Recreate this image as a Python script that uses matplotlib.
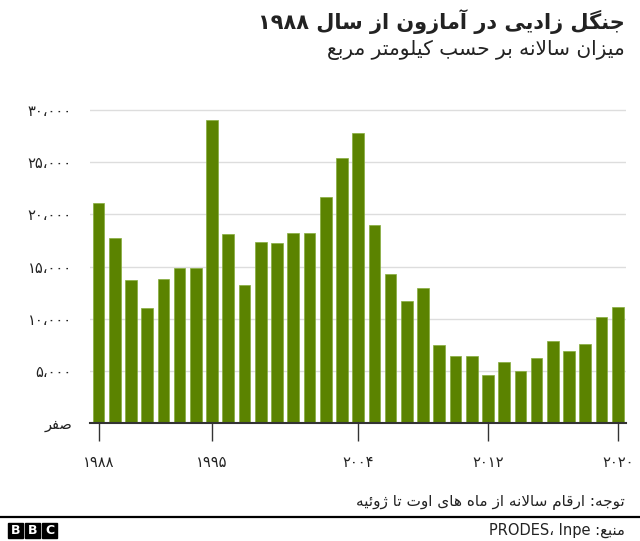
#!/usr/bin/env python3
# -*- coding: utf-8 -*-

import numpy as np
import matplotlib
matplotlib.use('Agg')
import matplotlib.pyplot as plt
from matplotlib.patches import Rectangle

# data: annual deforestation, km2 (PRODES)
years=list(range(1988, 2021))
area=[21050, 17770, 13730, 11030, 13786, 14896, 14896, 29059, 18161, 13227,
      17383, 17259, 18226, 18165, 21651, 25396, 27772, 19014, 14286, 11651,
      12911, 7464, 6400, 6400, 4571, 5891, 5012, 6207, 7893, 6947,
      7536, 10129, 11088]
xticks=[1988, 1995, 2004, 2012, 2020]
xlabels=['۱۹۸۸', '۱۹۹۵', '۲۰۰۴', '۲۰۱۲', '۲۰۲۰']
yticks=[0, 5000, 10000, 15000, 20000, 25000, 30000]
ylabels=['صفر', '۵،۰۰۰', '۱۰،۰۰۰', '۱۵،۰۰۰', '۲۰،۰۰۰', '۲۵،۰۰۰', '۳۰،۰۰۰']

title='جنگل زادیی در آمازون از سال ۱۹۸۸'
subtitle='میزان سالانه بر حسب کیلومتر مربع'
note='توجه: ارقام سالانه از ماه های اوت تا ژوئیه'
source_fa='منبع'
source_en='PRODES، Inpe'

# minimal arabic shaping (matplotlib has no text shaping)
FORMS={
  'ا':(0xFE8D, 0xFE8E, None, None), 'آ':(0xFE81, 0xFE82, None, None),
  'ب':(0xFE8F, 0xFE90, 0xFE91, 0xFE92), 'ت':(0xFE95, 0xFE96, 0xFE97, 0xFE98),
  'ث':(0xFE99, 0xFE9A, 0xFE9B, 0xFE9C), 'ج':(0xFE9D, 0xFE9E, 0xFE9F, 0xFEA0),
  'ح':(0xFEA1, 0xFEA2, 0xFEA3, 0xFEA4), 'خ':(0xFEA5, 0xFEA6, 0xFEA7, 0xFEA8),
  'د':(0xFEA9, 0xFEAA, None, None), 'ذ':(0xFEAB, 0xFEAC, None, None),
  'ر':(0xFEAD, 0xFEAE, None, None), 'ز':(0xFEAF, 0xFEB0, None, None),
  'س':(0xFEB1, 0xFEB2, 0xFEB3, 0xFEB4), 'ش':(0xFEB5, 0xFEB6, 0xFEB7, 0xFEB8),
  'ص':(0xFEB9, 0xFEBA, 0xFEBB, 0xFEBC), 'ض':(0xFEBD, 0xFEBE, 0xFEBF, 0xFEC0),
  'ط':(0xFEC1, 0xFEC2, 0xFEC3, 0xFEC4), 'ظ':(0xFEC5, 0xFEC6, 0xFEC7, 0xFEC8),
  'ع':(0xFEC9, 0xFECA, 0xFECB, 0xFECC), 'غ':(0xFECD, 0xFECE, 0xFECF, 0xFED0),
  'ف':(0xFED1, 0xFED2, 0xFED3, 0xFED4), 'ق':(0xFED5, 0xFED6, 0xFED7, 0xFED8),
  'ل':(0xFEDD, 0xFEDE, 0xFEDF, 0xFEE0), 'م':(0xFEE1, 0xFEE2, 0xFEE3, 0xFEE4),
  'ن':(0xFEE5, 0xFEE6, 0xFEE7, 0xFEE8), 'ه':(0xFEE9, 0xFEEA, 0xFEEB, 0xFEEC),
  'و':(0xFEED, 0xFEEE, None, None), 'ئ':(0xFE89, 0xFE8A, 0xFE8B, 0xFE8C),
  'پ':(0xFB56, 0xFB57, 0xFB58, 0xFB59), 'چ':(0xFB7A, 0xFB7B, 0xFB7C, 0xFB7D),
  'ژ':(0xFB8A, 0xFB8B, None, None), 'ک':(0xFB8E, 0xFB8F, 0xFB90, 0xFB91),
  'گ':(0xFB92, 0xFB93, 0xFB94, 0xFB95), 'ی':(0xFBFC, 0xFBFD, 0xFBFE, 0xFBFF),
}
LAMALEF={'ا':(0xFEFB, 0xFEFC), 'آ':(0xFEF5, 0xFEF6)}

def dual(c):
  return c in FORMS and FORMS[c][2] is not None

def shape(s):
  out=[]
  i=0
  while i<len(s):
    c=s[i]
    prev=s[i-1] if i>0 else ''
    nxt=s[i+1] if i+1<len(s) else ''
    jp=dual(prev)
    if c=='ل' and nxt in LAMALEF:
      out.append(chr(LAMALEF[nxt][1 if jp else 0]))
      i+=2
      continue
    if c in FORMS:
      iso, fin, ini, med=FORMS[c]
      jn=dual(c) and nxt in FORMS
      if jp and jn: g=med
      elif jp: g=fin
      elif jn: g=ini
      else: g=iso
      out.append(chr(g))
    else:
      out.append(c)
    i+=1
  return ''.join(out)

def isltr(c):
  return c.isascii() and c.isalnum() or '\u06f0'<=c<='\u06f9' or c=='،'

def rtl(s):
  # shape, then put in visual order keeping number runs left-to-right
  s=shape(s)
  runs=[]
  for c in s:
    if runs and isltr(runs[-1][-1])==isltr(c):
      runs[-1]+=c
    else:
      runs.append(c)
  return ''.join(r if isltr(r[0]) else r[::-1] for r in runs[::-1])

plt.rcParams['font.family']=['DejaVu Sans']

fig=plt.figure(figsize=(6.4, 5.41), dpi=100, facecolor='white')
ax=fig.add_axes((90/640, 1-423/541, 536/640, 323.4/541))

ax.bar(years, area, width=0.72, color='#5b8300', edgecolor='#86ad3c', linewidth=0.5, zorder=2)

ax.set_xlim(1987.475, 2020.51)
ax.set_ylim(0, 31000)
ax.set_yticks(yticks)
ax.set_yticklabels([rtl(l) for l in ylabels], fontsize=10.5, color='#222222')
ax.set_xticks(xticks)
ax.set_xticklabels(xlabels, fontsize=10.5, color='#222222')
ax.tick_params(axis='y', length=0, pad=13)
ax.tick_params(axis='x', length=13, width=1, color='#333333', pad=10)
ax.yaxis.grid(True, color='#dddddd', linewidth=1, zorder=0)
ax.set_axisbelow(True)
for s in ['top', 'right', 'left']:
  ax.spines[s].set_visible(False)
ax.spines['bottom'].set_color('#333333')
ax.spines['bottom'].set_linewidth(1.5)
ax.spines['bottom'].set_zorder(3)

# titles
fig.text(625/640, 1-22/541, rtl(title), ha='right', va='center', fontsize=15, fontweight='bold', color='#222222')
fig.text(625/640, 1-50/541, rtl(subtitle), ha='right', va='center', fontsize=14.5, color='#222222')

# footer
fig.text(625/640, 1-503/541, rtl(note), ha='right', va='center', fontsize=11, color='#222222')
fig.add_artist(plt.Line2D([0, 1], [1-517/541, 1-517/541], color='#000000', linewidth=1.6, transform=fig.transFigure))
fig.text(625/640, 1-530/541, source_en+' :'+rtl(source_fa), ha='right', va='center', fontsize=10.5, color='#222222')

for k, ch in enumerate('BBC'):
  x0=(8+k*17)/640
  fig.add_artist(Rectangle((x0, 1-538/541), 15/640, 15/541, color='black', transform=fig.transFigure))
  fig.text(x0+7.5/640, 1-530.5/541, ch, ha='center', va='center', fontsize=9, fontweight='bold', color='white')

fig.savefig('out.png')
